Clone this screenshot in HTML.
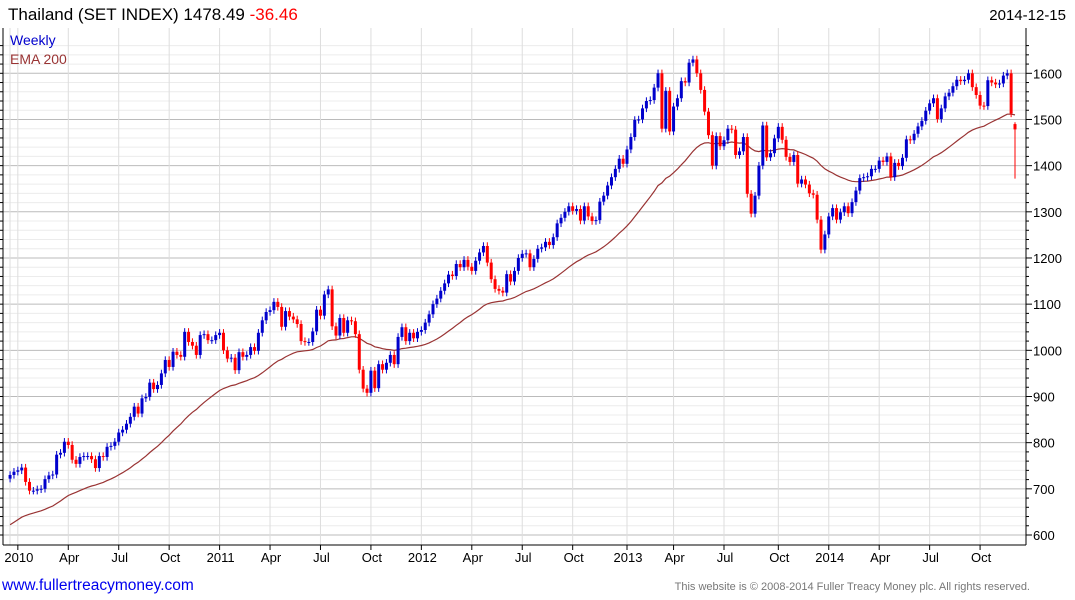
<!DOCTYPE html>
<html><head><meta charset="utf-8">
<style>
body{margin:0;background:#fff;font-family:"Liberation Sans",Arial,sans-serif;}
svg{display:block}
</style></head>
<body>
<svg id="chart" width="1075" height="600" xmlns="http://www.w3.org/2000/svg" font-family="Liberation Sans, Arial, sans-serif">
<rect x="0" y="0" width="1075" height="600" fill="#fff"/>
<g id="grid"></g>
<g id="ema"></g>
<g id="candles"></g>
<g id="axes"></g>
<text x="8" y="20" font-size="17" fill="#000">Thailand (SET INDEX) 1478.49 <tspan fill="#ff0000">-36.46</tspan></text>
<text x="1066" y="20" font-size="15" fill="#000" text-anchor="end">2014-12-15</text>
<text x="10" y="45" font-size="14" fill="#0000cc">Weekly</text>
<text x="10" y="64" font-size="14" fill="#993333">EMA 200</text>
<text x="2" y="590" font-size="15.5" fill="#0000ee">www.fullertreacymoney.com</text>
<text x="1030" y="590" font-size="11" fill="#777" text-anchor="end">This website is © 2008-2014 Fuller Treacy Money plc. All rights reserved.</text>
</svg>
<script>
const closes = [
730,737,740,746,715,696,696,699,700,721,729,731,774,778,802,795,763,754,769,771,771,764,745,771,769,791,793,802,822,828,841,856,878,863,896,899,930,916,925,950,979,964,997,990,986,1040,1018,1010,990,1033,1035,1022,1022,1033,1038,1000,982,984,957,996,986,990,1007,999,1038,1065,1083,1087,1105,1094,1051,1085,1073,1067,1057,1020,1018,1018,1041,1088,1075,1121,1132,1052,1032,1070,1038,1065,1063,1035,958,917,908,956,918,970,958,973,990,970,1029,1050,1020,1038,1026,1040,1044,1060,1078,1100,1112,
1129,1145,1164,1161,1187,1180,1196,1181,1172,1194,1212,1226,1190,1154,1133,1129,1125,1165,1149,1172,1200,1209,1210,1180,1198,1220,1223,1235,1228,1245,1275,1287,1300,1312,1302,1306,1281,1312,1290,1280,1282,1322,1335,1357,1375,1393,1415,1404,1435,1462,1499,1500,1524,1540,1542,1569,1600,1480,1562,1474,1528,1546,1583,1580,1623,1630,1600,1564,1517,1466,1400,1464,1442,1455,1480,1478,1423,1431,1462,1339,1296,1335,1400,1487,1418,1427,1459,1484,1456,1419,1408,1423,
1361,1370,1359,1340,1337,1283,1218,1251,1290,1308,1283,1299,1312,1297,1321,1346,1373,1375,1377,1393,1393,1411,1408,1420,1375,1406,1399,1417,1457,1455,1469,1485,1497,1519,1535,1546,1501,1524,1550,1558,1572,1586,1583,1586,1600,1570,1553,1530,1529,1585,1580,1576,1578,1595,1600,1513,1478.49];
const firstOpen = 722;
const lastOpen = 1490;
const lastLow = 1372;
const emaSeed = 622;
const emaPeriod = 40;
const yTicks = [600,700,800,900,1000,1100,1200,1300,1400,1500,1600];
const xTickLabels = ["2010","Apr","Jul","Oct","2011","Apr","Jul","Oct","2012","Apr","Jul","Oct","2013","Apr","Jul","Oct","2014","Apr","Jul","Oct"];
const xTickDates = ["2010-01-04","2010-04-05","2010-07-05","2010-10-04","2011-01-03","2011-04-04","2011-07-04","2011-10-03","2012-01-02","2012-04-02","2012-07-02","2012-10-01","2013-01-07","2013-04-01","2013-07-01","2013-10-07","2014-01-06","2014-04-07","2014-07-07","2014-10-06"];
const firstDate = "2009-12-21";

const NS="http://www.w3.org/2000/svg";
const L=3,R=1026,T=28,B=545;
const lastX=1015, step=3.88;
const x0 = lastX-(closes.length-1)*step;
function xOf(i){return x0+i*step;}
function xOfDate(d){const days=(new Date(d)-new Date(firstDate))/86400000;return x0+days/7*step;}
function yOf(v){return 73.3+(1600-v)*0.4617;}
function mk(tag,attrs,parent){const e=document.createElementNS(NS,tag);for(const k in attrs)e.setAttribute(k,attrs[k]);parent.appendChild(e);return e;}
const grid=document.getElementById('grid'),axes=document.getElementById('axes'),cg=document.getElementById('candles'),eg=document.getElementById('ema');

mk('rect',{x:L,y:T,width:R-L,height:B-T,fill:'#fff'},grid);
for(let v=600; v<=1660; v+=20){
  const y=yOf(v); if(y<T||y>B) continue;
  const major=v%100===0;
  const ln=mk('line',{x1:L,x2:R,y1:y,y2:y,stroke:major?'#bbb':'#ececec','stroke-width':1},grid);
  
  
  mk('line',{x1:0,x2:L,y1:y,y2:y,stroke:'#000'},axes);
  mk('line',{x1:R,x2:R+(major?6:3),y1:y,y2:y,stroke:'#000'},axes);
}
mk('line',{x1:10,x2:10,y1:T,y2:B,stroke:'#ddd'},grid);
xTickDates.forEach((d,i)=>{
  const x=xOfDate(d);
  const ln=mk('line',{x1:x,x2:x,y1:T,y2:B,stroke:'#ddd'},grid);
  
  
  mk('line',{x1:x,x2:x,y1:B,y2:B+5,stroke:'#000'},axes);
  const t=mk('text',{x:x+1,y:562,'font-size':13,'text-anchor':'middle',fill:'#000'},axes);
  t.textContent=xTickLabels[i];
  
  
});
yTicks.forEach(v=>{
  const t=mk('text',{x:1033,y:yOf(v)+5,'font-size':13,fill:'#000'},axes);
  t.textContent=v;
  
  
});
mk('line',{x1:R,x2:R,y1:T,y2:B,stroke:'#000'},axes);
mk('line',{x1:L,x2:R,y1:B,y2:B,stroke:'#000'},axes);
mk('line',{x1:L,x2:L,y1:T,y2:B,stroke:'#000'},axes);

const alpha=2/(emaPeriod+1);
let e=emaSeed, pts=[];
closes.forEach((c,i)=>{ if(i>0) e=e+alpha*(c-e); pts.push(xOf(i).toFixed(1)+','+yOf(e).toFixed(1)); });
const pl=mk('polyline',{points:pts.join(' '),fill:'none',stroke:'#993333','stroke-width':1.2},eg);



const n=closes.length;
closes.forEach((c,i)=>{
  const isLast=i===n-1;
  const o=i===0?firstOpen:(isLast?lastOpen:closes[i-1]);
  const up=c>=o;
  const col=up?'#0000cc':'#ff0000';
  const hi=Math.max(o,c)+(isLast?4:8), lo=isLast?lastLow:Math.min(o,c)-8;
  const x=xOf(i);
  const g=mk('g',{},cg);
  
  
  mk('line',{x1:x,x2:x,y1:yOf(hi),y2:yOf(lo),stroke:col,'stroke-width':1},g);
  const yt=yOf(Math.max(o,c)), yb=yOf(Math.min(o,c));
  mk('rect',{x:x-1.5,y:yt,width:3,height:Math.max(1,yb-yt),fill:col},g);
});
</script>
</body></html>
